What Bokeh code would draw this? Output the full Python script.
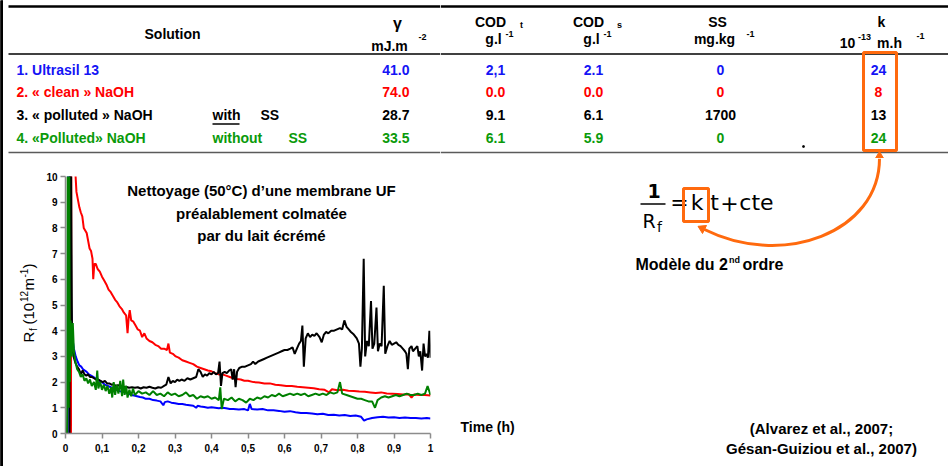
import math
from bokeh.plotting import figure
from bokeh.layouts import row, column
from bokeh.models import Range1d, FixedTicker, CustomJSTickFormatter
from bokeh.core.properties import value
from bokeh.embed import file_html
from bokeh.resources import INLINE

# ---------------- data ----------------
solutions = ["1. Ultrasil 13", "2. \u00ab clean \u00bb NaOH", "3. \u00ab polluted \u00bb NaOH", "4. \u00abPolluted\u00bb NaOH"]
ss_note = ["", "", "with", "without"]
gamma = ["41.0", "74.0", "28.7", "33.5"]
cod_t = ["2,1", "0.0", "9.1", "6.1"]
cod_s = ["2.1", "0.0", "6.1", "5.9"]
ss_vals = ["0", "0", "1700", "0"]
k_vals = ["24", "8", "13", "24"]
text_colors = ["#1414F5", "#FF0000", "#000000", "#0A9A0A"]
line_colors = ["#0000FF", "#FF0000", "#000000", "#008000"]

x_ticks = [0, 0.1, 0.2, 0.3, 0.4, 0.5, 0.6, 0.7, 0.8, 0.9, 1]
x_tick_labels = ["0", "0,1", "0,2", "0,3", "0,4", "0,5", "0,6", "0,7", "0,8", "0,9", "1"]
y_ticks = [0, 1, 2, 3, 4, 5, 6, 7, 8, 9, 10]

blue_pts = [(0.006, 0), (0.007, 12), (0.012, 11), (0.015, 5.0), (0.018, 3.8), (0.023, 3.3), (0.028, 3.0),
            (0.033, 2.8), (0.038, 2.65), (0.043, 2.6), (0.048, 2.5), (0.053, 2.45), (0.058, 2.4), (0.064, 2.3),
            (0.070, 2.25), (0.076, 2.2), (0.082, 2.15), (0.088, 2.1), (0.094, 2.05), (0.100, 2.0), (0.108, 1.9),
            (0.116, 1.85), (0.124, 1.8), (0.132, 1.75), (0.140, 1.7), (0.148, 1.65), (0.156, 1.62), (0.164, 1.6),
            (0.172, 1.55), (0.180, 1.5), (0.188, 1.48), (0.196, 1.45), (0.204, 1.42), (0.212, 1.4), (0.220, 1.35),
            (0.230, 1.35), (0.240, 1.3), (0.250, 1.28), (0.260, 1.25), (0.268, 1.1), (0.272, 1.22), (0.280, 1.25),
            (0.290, 1.2), (0.300, 1.18), (0.310, 1.15), (0.320, 1.15), (0.330, 1.12), (0.340, 1.1), (0.350, 1.08),
            (0.358, 1.0), (0.362, 1.08), (0.370, 1.05), (0.380, 1.03), (0.390, 1.0), (0.400, 1.02), (0.410, 1.0),
            (0.420, 0.98), (0.430, 1.0), (0.440, 0.98), (0.450, 0.95), (0.460, 0.95), (0.475, 0.93), (0.490, 0.95),
            (0.500, 0.9), (0.505, 1.15), (0.510, 0.95), (0.525, 0.93), (0.540, 0.95), (0.555, 0.9), (0.570, 0.9),
            (0.585, 0.88), (0.600, 0.85), (0.615, 0.87), (0.630, 0.83), (0.645, 0.8), (0.660, 0.8), (0.675, 0.78),
            (0.690, 0.75), (0.705, 0.77), (0.720, 0.72), (0.735, 0.73), (0.750, 0.7), (0.765, 0.72), (0.780, 0.68),
            (0.795, 0.7), (0.810, 0.65), (0.818, 0.5), (0.825, 0.55), (0.840, 0.6), (0.855, 0.63), (0.870, 0.65),
            (0.885, 0.62), (0.900, 0.63), (0.915, 0.6), (0.930, 0.62), (0.945, 0.6), (0.960, 0.6), (0.975, 0.58),
            (0.990, 0.6), (1.000, 0.58)]

red_pts = [(0.015, 0), (0.016, 13), (0.030, 9.4), (0.034, 9.1), (0.038, 8.8), (0.042, 8.6), (0.046, 8.45),
           (0.050, 8.0), (0.054, 7.9), (0.058, 7.8), (0.062, 7.5), (0.066, 7.2), (0.070, 7.1), (0.074, 6.8),
           (0.076, 6.0), (0.079, 6.6), (0.083, 6.6), (0.088, 6.4), (0.094, 6.3), (0.100, 6.1), (0.106, 5.95),
           (0.112, 5.8), (0.118, 5.6), (0.124, 5.5), (0.130, 5.35), (0.136, 5.2), (0.142, 5.1), (0.148, 4.95),
           (0.154, 4.85), (0.160, 4.7), (0.166, 4.6), (0.170, 3.9), (0.173, 4.5), (0.176, 4.8), (0.180, 4.4),
           (0.186, 4.35), (0.192, 4.2), (0.198, 4.05), (0.204, 4.0), (0.210, 3.75), (0.216, 3.9), (0.222, 3.7),
           (0.230, 3.6), (0.238, 3.55), (0.246, 3.45), (0.254, 3.4), (0.262, 3.3), (0.270, 3.3), (0.278, 3.25),
           (0.282, 3.5), (0.286, 3.15), (0.294, 3.1), (0.302, 3.0), (0.310, 2.95), (0.320, 2.85), (0.330, 2.8),
           (0.340, 2.75), (0.350, 2.7), (0.360, 2.6), (0.370, 2.55), (0.380, 2.5), (0.390, 2.45), (0.400, 2.42),
           (0.410, 2.35), (0.420, 2.3), (0.430, 2.3), (0.440, 2.25), (0.450, 2.2), (0.460, 2.15), (0.470, 2.12),
           (0.480, 2.1), (0.490, 2.05), (0.500, 2.05), (0.515, 2.0), (0.530, 1.98), (0.545, 1.95), (0.560, 1.95),
           (0.575, 1.9), (0.590, 1.88), (0.605, 1.85), (0.620, 1.85), (0.635, 1.82), (0.650, 1.8), (0.665, 1.78),
           (0.680, 1.76), (0.695, 1.72), (0.710, 1.7), (0.722, 1.6), (0.730, 1.72), (0.745, 1.68), (0.760, 1.7),
           (0.775, 1.66), (0.790, 1.65), (0.805, 1.63), (0.820, 1.62), (0.835, 1.6), (0.850, 1.58), (0.865, 1.6),
           (0.880, 1.56), (0.895, 1.55), (0.910, 1.54), (0.925, 1.52), (0.940, 1.53), (0.948, 1.4), (0.955, 1.52),
           (0.970, 1.5), (0.985, 1.5), (1.000, 1.48)]

black_pts = [(0.011, 0), (0.012, 12), (0.015, 11), (0.018, 3.4), (0.022, 3.0), (0.027, 2.75), (0.032, 2.6),
             (0.037, 2.5), (0.042, 2.3), (0.047, 2.45), (0.052, 2.3), (0.057, 2.25), (0.062, 2.3), (0.067, 2.2),
             (0.072, 2.2), (0.078, 2.15), (0.084, 2.1), (0.090, 2.1), (0.096, 2.05), (0.102, 2.0), (0.108, 2.05),
             (0.114, 1.95), (0.120, 1.95), (0.126, 1.9), (0.132, 1.92), (0.138, 1.85), (0.144, 1.88), (0.150, 1.85),
             (0.158, 1.8), (0.166, 1.82), (0.174, 1.78), (0.182, 1.8), (0.190, 1.78), (0.198, 1.8), (0.206, 1.75),
             (0.214, 1.8), (0.222, 1.78), (0.230, 1.82), (0.238, 1.78), (0.246, 1.75), (0.254, 1.8), (0.262, 1.78),
             (0.270, 1.85), (0.276, 1.9), (0.282, 2.2), (0.288, 1.95), (0.294, 2.05), (0.300, 2.0), (0.306, 2.1),
             (0.312, 2.05), (0.318, 2.1), (0.326, 2.05), (0.334, 2.15), (0.342, 2.1), (0.350, 2.15), (0.358, 2.2),
             (0.364, 2.5), (0.370, 2.4), (0.376, 2.2), (0.382, 2.3), (0.388, 2.25), (0.394, 2.35), (0.400, 2.3),
             (0.406, 2.4), (0.412, 2.3), (0.418, 2.35), (0.422, 2.8), (0.426, 1.85), (0.430, 2.35), (0.436, 2.4),
             (0.442, 2.35), (0.448, 2.45), (0.454, 2.5), (0.458, 2.1), (0.462, 2.5), (0.466, 1.8), (0.470, 2.4),
             (0.476, 2.55), (0.484, 2.6), (0.492, 2.6), (0.500, 2.65), (0.508, 2.7), (0.514, 2.8), (0.520, 2.7),
             (0.528, 2.8), (0.536, 2.85), (0.544, 2.9), (0.552, 2.95), (0.560, 3.0), (0.568, 3.05), (0.576, 3.1),
             (0.584, 3.15), (0.592, 3.2), (0.600, 3.25), (0.608, 3.25), (0.616, 3.3), (0.622, 3.35), (0.628, 3.1),
             (0.634, 3.3), (0.640, 3.5), (0.645, 3.6), (0.649, 4.2), (0.653, 2.6), (0.658, 3.7), (0.664, 3.9),
             (0.670, 3.75), (0.676, 3.85), (0.682, 3.8), (0.688, 3.9), (0.696, 3.75), (0.702, 3.55), (0.708, 3.85),
             (0.714, 3.95), (0.720, 3.9), (0.728, 4.0), (0.736, 4.0), (0.744, 4.05), (0.752, 4.1), (0.758, 4.05),
             (0.764, 4.4), (0.770, 4.15), (0.776, 4.05), (0.782, 3.95), (0.790, 3.85), (0.798, 3.7), (0.804, 3.5),
             (0.808, 2.6), (0.812, 3.3), (0.817, 6.8), (0.821, 3.0), (0.826, 3.6), (0.831, 3.4), (0.837, 5.15),
             (0.841, 3.3), (0.846, 3.5), (0.852, 4.9), (0.856, 3.2), (0.861, 3.5), (0.866, 3.4), (0.872, 5.75),
             (0.876, 3.1), (0.882, 3.4), (0.888, 3.6), (0.894, 3.45), (0.900, 3.5), (0.906, 3.55), (0.912, 3.45),
             (0.918, 3.4), (0.924, 3.3), (0.930, 3.2), (0.934, 3.1), (0.938, 2.5), (0.942, 3.3), (0.948, 3.4),
             (0.952, 3.2), (0.958, 3.3), (0.964, 3.4), (0.968, 3.0), (0.972, 3.2), (0.977, 2.45), (0.981, 3.5),
             (0.985, 3.0), (0.989, 3.1), (0.993, 2.95), (0.997, 4.0), (1.000, 2.95)]

green_pts = [(0.004, 0), (0.005, 1.0), (0.006, 11), (0.009, 1.0), (0.010, 11), (0.012, 2.0), (0.014, 4.4),
             (0.017, 3.0), (0.020, 4.3), (0.023, 3.2), (0.027, 2.8), (0.032, 2.5), (0.037, 2.4), (0.042, 2.2),
             (0.047, 2.3), (0.052, 2.05), (0.057, 2.15), (0.062, 1.95), (0.067, 2.1), (0.072, 1.85), (0.078, 2.0),
             (0.083, 1.7), (0.087, 2.45), (0.090, 1.75), (0.095, 2.0), (0.100, 1.7), (0.105, 1.9), (0.110, 1.65),
             (0.115, 1.85), (0.120, 1.55), (0.125, 1.8), (0.128, 1.4), (0.132, 2.0), (0.136, 1.5), (0.140, 1.9),
             (0.145, 1.55), (0.150, 2.05), (0.155, 1.45), (0.158, 2.1), (0.162, 1.5), (0.166, 1.85), (0.170, 1.4),
             (0.175, 1.7), (0.180, 1.45), (0.185, 1.75), (0.190, 1.5), (0.200, 1.65), (0.210, 1.55), (0.220, 1.6),
             (0.230, 1.5), (0.240, 1.65), (0.250, 1.5), (0.260, 1.55), (0.270, 1.45), (0.280, 1.6), (0.290, 1.5),
             (0.300, 1.55), (0.310, 1.45), (0.320, 1.5), (0.330, 1.6), (0.340, 1.45), (0.350, 1.5), (0.360, 1.35),
             (0.370, 1.45), (0.380, 1.4), (0.390, 1.45), (0.400, 1.35), (0.410, 1.4), (0.420, 1.3), (0.424, 1.8),
             (0.428, 0.95), (0.434, 1.35), (0.445, 1.3), (0.455, 1.4), (0.465, 1.25), (0.475, 1.35), (0.485, 1.3),
             (0.495, 1.2), (0.505, 1.35), (0.515, 1.3), (0.525, 1.4), (0.535, 1.35), (0.545, 1.45), (0.555, 1.4),
             (0.565, 1.5), (0.575, 1.45), (0.585, 1.55), (0.595, 1.45), (0.605, 1.5), (0.615, 1.55), (0.625, 1.5),
             (0.635, 1.55), (0.645, 1.5), (0.655, 1.55), (0.665, 1.45), (0.675, 1.5), (0.685, 1.55), (0.695, 1.5),
             (0.705, 1.55), (0.715, 1.5), (0.725, 1.6), (0.735, 1.55), (0.745, 1.6), (0.752, 2.0), (0.758, 1.55),
             (0.770, 1.5), (0.780, 1.45), (0.790, 1.4), (0.800, 1.35), (0.810, 1.35), (0.820, 1.3), (0.830, 1.25),
             (0.840, 1.25), (0.848, 1.0), (0.855, 1.3), (0.865, 1.4), (0.875, 1.45), (0.885, 1.4), (0.895, 1.45),
             (0.905, 1.5), (0.915, 1.45), (0.925, 1.5), (0.935, 1.55), (0.945, 1.5), (0.955, 1.5), (0.965, 1.55),
             (0.975, 1.5), (0.985, 1.55), (0.992, 1.85), (1.000, 1.5)]

series = [blue_pts, red_pts, black_pts, green_pts]
series_colors = [line_colors[0], line_colors[1], line_colors[2], line_colors[3]]

FONT = "Liberation Sans"
ORANGE = "#FF6A0E"


def txt(p, x, y, s, size, color="black", align="center", style="bold", font=FONT, angle=0.0, mid=False):
    # y is the text baseline unless mid=True; drawn with a "middle" baseline
    ym = y if mid else y - 0.36 * size
    p.text(x=[x], y=[ym], text=[s], text_font=value(font), text_font_size=f"{size}px",
           text_font_style=style, text_color=color, text_align=align, text_baseline="middle",
           angle=angle)


def blank(width, height, xr, yr, **kw):
    opts = dict(min_border=0)
    opts.update(kw)
    return figure(width=width, height=height, x_range=xr, y_range=yr, output_backend="svg",
                  toolbar_location=None, x_axis_type=None, y_axis_type=None,
                  outline_line_color=None, title_location=None, **opts)


# ---------------- left border ----------------
border = blank(3, 466, Range1d(0, 1), Range1d(0, 1))
border.background_fill_color = "black"
border.border_fill_color = "black"
border.quad(left=[0], right=[1], bottom=[0], top=[1], color="black")

# ---------------- table (split in two halves at x = 440) ----------------
tabL = blank(437, 158, Range1d(3, 440), Range1d(158, 0))
tabR = blank(508, 158, Range1d(440, 948), Range1d(158, 0))
for t, x0, x1 in ((tabL, 8, 440), (tabR, 440, 948)):
    t.segment(x0=[x0], y0=[6], x1=[x1], y1=[6], line_color="black", line_width=2.5)
    t.segment(x0=[x0], y0=[53.5], x1=[x1], y1=[53.5], line_color="black", line_width=1.5)
    t.segment(x0=[x0], y0=[152], x1=[x1], y1=[152], line_color="#5a5a5a", line_width=1.5)

txt(tabL, 172, 39, "Solution", 14)
txt(tabL, 397, 29, "\u03b3", 16)
txt(tabL, 389, 51, "mJ.m", 14)
txt(tabL, 422, 40, "-2", 9)
for cx, sub in ((490, "t"), (588, "s")):
    txt(tabR, cx, 27, "COD", 14)
    txt(tabR, cx + 31, 28, sub, 9)
    txt(tabR, cx + 3, 44, "g.l", 14)
    txt(tabR, cx + 19, 37, "-1", 9)
txt(tabR, 717, 27, "SS", 14)
txt(tabR, 714, 44, "mg.kg", 14)
txt(tabR, 750, 37, "-1", 9)
txt(tabR, 881, 27, "k", 14)
txt(tabR, 847, 48, "10", 14)
txt(tabR, 864, 40, "-13", 9)
txt(tabR, 889, 48, "m.h", 14)
txt(tabR, 920, 39, "-1", 9)

row_y = [75, 97, 120, 143]
for i in range(4):
    y = row_y[i]
    c = text_colors[i]
    txt(tabL, 16, y, solutions[i], 14, c, align="left")
    txt(tabL, 409, y, gamma[i], 14, c, align="right")
    txt(tabR, 495, y, cod_t[i], 14, c)
    txt(tabR, 593, y, cod_s[i], 14, c)
    txt(tabR, 720, y, ss_vals[i], 14, c)
    txt(tabR, 878, y, k_vals[i], 14, c)
    if ss_note[i]:
        txt(tabL, 212, y, ss_note[i], 14, c, align="left")
        txt(tabL, 260 if i == 2 else 288, y, "SS", 14, c, align="left")
tabL.segment(x0=[212], y0=[123.5], x1=[239], y1=[123.5], line_color="black", line_width=1.5)
tabR.quad(left=[863], right=[896], top=[52], bottom=[150], fill_color=None,
          line_color=ORANGE, line_width=3)
tabR.patch(x=[879, 874.5, 883.5], y=[151, 158.5, 158.5], color=ORANGE)
tabR.rect(x=[803], y=[146], width=1.5, height=1.5, color="black")

# ---------------- y label strip (frame matches chart frame: y 176..433) ----------------
ylf = blank(39, 308, Range1d(3, 42), Range1d(433, 176), min_border_top=18, min_border_bottom=33)
A = math.pi / 2
ylab = [(28, 342, "R", 15), (32.5, 330.5, "f", 10), (28, 324, "(10", 15),
        (23, 301.5, "12", 10), (28, 290, "m", 15), (23, 277, "-1", 10), (28, 268, ")", 15)]
for xv, yv, s, sz in ylab:
    txt(ylf, xv, yv, s, sz, align="left", style="normal", angle=A, mid=True)

# ---------------- chart ----------------
p = figure(width=398, height=308, x_range=Range1d(0, 1), y_range=Range1d(0, 10),
           output_backend="svg", toolbar_location=None, outline_line_color=None, title_location=None,
           min_border_left=23, min_border_right=10, min_border_top=18, min_border_bottom=33)
p.grid.visible = False
p.xaxis[0].ticker = FixedTicker(ticks=x_ticks)
p.xaxis[0].formatter = CustomJSTickFormatter(
    args=dict(xt=x_ticks, xl=x_tick_labels),
    code="for (let i = 0; i < xt.length; i++) { if (Math.abs(xt[i] - tick) < 1e-9) return xl[i]; } return '';")
p.yaxis[0].ticker = FixedTicker(ticks=y_ticks)
for ax in (p.xaxis[0], p.yaxis[0]):
    ax.axis_line_color = "#8c8c8c"
    ax.axis_line_width = 1.5
    ax.major_tick_line_color = "#8c8c8c"
    ax.major_tick_line_width = 1.5
    ax.major_tick_out = 5
    ax.major_tick_in = 0
    ax.minor_tick_line_color = None
    ax.major_label_text_font = FONT
    ax.major_label_text_font_style = "bold"
    ax.major_label_text_font_size = "10px"
    ax.major_label_text_color = "black"
p.yaxis[0].major_label_standoff = 3
p.xaxis[0].major_label_standoff = 5

for pts, col in zip(series, series_colors):
    p.line(x=[a for a, b in pts], y=[b for a, b in pts], line_color=col, line_width=2)

title_lines = ["Nettoyage (50\u00b0C) d\u2019une membrane UF", "pr\u00e9alablement colmat\u00e9e", "par du lait \u00e9cr\u00e9m\u00e9"]
for s, yv in zip(title_lines, [9.45, 8.57, 7.72]):
    p.text(x=[0.537], y=[yv], text=[s], text_font=value(FONT), text_font_size="15px",
           text_font_style="bold", text_color="black", text_align="center", text_baseline="middle")

# ---------------- right panel ----------------
q = blank(508, 308, Range1d(440, 948), Range1d(466, 158))
txt(q, 460, 432, "Time (h)", 14, align="left")
txt(q, 821, 433, "(Alvarez et al., 2007;", 15)
txt(q, 821, 453, "G\u00e9san-Guiziou et al., 2007)", 15)

MF = "DejaVu Sans"
txt(q, 653.5, 197, "1", 19, font=MF)
q.segment(x0=[640], y0=[203.5], x1=[665], y1=[203.5], line_color="black", line_width=1.5)
txt(q, 648.5, 227, "R", 19, style="normal", font=MF)
txt(q, 659, 232, "f", 14, style="normal", font=MF)
txt(q, 679, 210, "=", 22, style="normal", font=MF)
txt(q, 696.5, 210, "k", 22, style="normal", font=MF)
txt(q, 714, 210, "t", 22, style="normal", font=MF)
txt(q, 729, 210, "+", 22, style="normal", font=MF)
txt(q, 756, 210, "cte", 22, style="normal", font=MF)
q.quad(left=[683], right=[708], top=[188], bottom=[221], fill_color=None, line_color=ORANGE, line_width=3)

txt(q, 635, 270, "Mod\u00e8le du 2", 16, align="left")
txt(q, 728.5, 263, "nd", 9, align="left")
txt(q, 742, 270, "ordre", 16, align="left")

q.bezier(x0=[879], y0=[158], x1=[704], y1=[229], cx0=[879], cy0=[232], cx1=[782], cy1=[268],
         line_color=ORANGE, line_width=3)
q.patch(x=[697.5, 706.0, 702.0], y=[225.8, 225.0, 233.0], color=ORANGE)

layout = row(border, column(tabL, row(ylf, p)), column(tabR, q))
open("out.html", "w").write(file_html(layout, INLINE))
